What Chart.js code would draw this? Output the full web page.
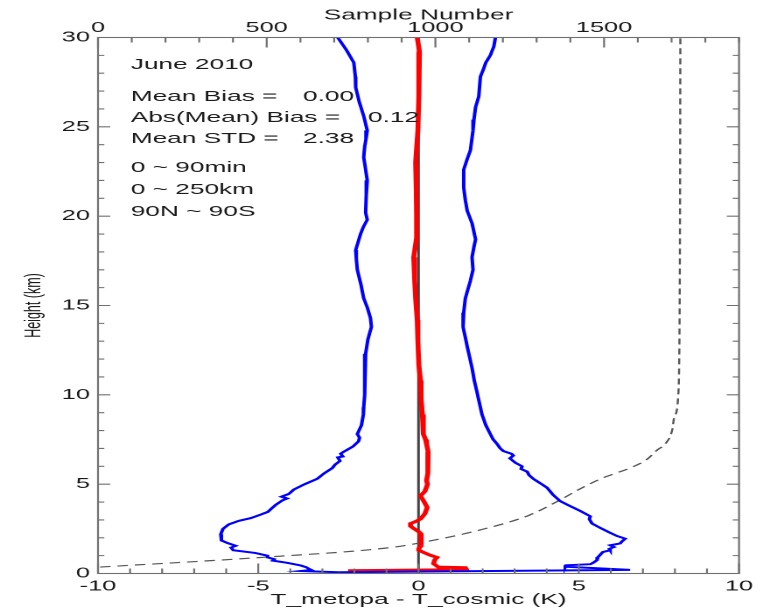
<!DOCTYPE html>
<html>
<head>
<meta charset="utf-8">
<script src="https://cdn.jsdelivr.net/npm/chart.js@4.4.1/dist/chart.umd.min.js"></script>
<style>
  html, body { margin: 0; padding: 0; background: #fff; overflow: hidden; }
  /* the original picture is stretched sideways, so the canvas is too */
  #chart { display: block; transform: scaleX(1.75); transform-origin: 0 0; }
</style>
</head>
<body>
<canvas id="chart" width="436" height="610"></canvas>
<script>
// mean - std (K) vs height (km)
const leftHeight = [30, 29.3, 28.6, 27.8, 27.2, 26.4, 25.6, 24.8, 24.3, 23.9, 23.3, 22.6, 22.0, 21.2, 20.2, 19.8, 19.4, 19.0, 18.1, 17.6,
  17.0, 16.2, 15.4, 14.9, 14.3, 13.8, 13.1, 12.3, 11.5, 10.8, 10.0, 9.3, 8.9, 8.3, 7.8, 7.6, 7.4, 7.1, 6.8, 6.7,
  6.55, 6.5, 6.3, 6.1, 5.9, 5.6, 5.3, 5.0, 4.7, 4.45, 4.3, 4.2, 4.1, 3.85, 3.6, 3.45, 3.3, 3.1, 2.95, 2.75,
  2.5, 2.2, 1.85, 1.7, 1.55, 1.45, 1.3, 1.15, 1.0, 0.9, 0.8, 0.72, 0.6, 0.45, 0.35, 0.27, 0.2, 0.14, 0.07];
const leftDiff = [-2.52, -2.25, -2.02, -1.97, -1.96, -1.85, -1.71, -1.6, -1.64, -1.68, -1.71, -1.65, -1.6, -1.63, -1.65, -1.6, -1.72, -1.81, -1.96, -1.94,
  -1.91, -1.8, -1.71, -1.6, -1.5, -1.47, -1.58, -1.65, -1.67, -1.68, -1.69, -1.71, -1.72, -1.78, -1.91, -1.84, -1.87, -2.05, -2.35, -2.43,
  -2.36, -2.52, -2.45, -2.6, -2.69, -2.95, -3.16, -3.55, -3.89, -4.05, -4.28, -4.1, -4.24, -4.45, -4.61, -4.7, -4.92, -5.23, -5.6, -5.92,
  -6.1, -6.17, -6.15, -5.95, -5.7, -5.85, -5.78, -5.1, -4.71, -4.71, -4.5, -4.55, -4.1, -3.68, -3.5, -3.43, -3.35, -3.68, -2.49];

// mean + std (K) vs height (km)
const rightHeight = [30, 29.5, 29.0, 28.6, 28.2, 27.8, 26.7, 26.1, 25.4, 24.8, 23.7, 23.1, 22.6, 21.6, 20.9, 20.3, 19.6, 18.7, 18.2, 17.7,
  17.0, 16.4, 15.4, 14.6, 13.8, 13.3, 12.7, 11.5, 10.8, 10.1, 8.9, 8.3, 7.8, 7.5, 7.25, 7.0, 6.85, 6.7, 6.6, 6.45,
  6.2, 6.0, 5.85, 5.7, 5.5, 5.3, 5.05, 4.8, 4.4, 4.05, 3.8, 3.5, 3.2, 3.05, 2.8, 2.55, 2.3, 2.1, 1.95, 1.8,
  1.68, 1.58, 1.48, 1.38, 1.3, 1.2, 1.05, 0.92, 0.75, 0.6, 0.52, 0.46, 0.38, 0.3, 0.2, 0.07];
const rightDiff = [2.4, 2.35, 2.24, 2.1, 2.02, 1.93, 1.88, 1.78, 1.73, 1.7, 1.62, 1.5, 1.41, 1.41, 1.46, 1.52, 1.67, 1.78, 1.72, 1.67,
  1.7, 1.62, 1.46, 1.41, 1.39, 1.45, 1.52, 1.67, 1.74, 1.83, 1.98, 2.1, 2.24, 2.33, 2.45, 2.55, 2.65, 2.9, 2.96, 2.85,
  3.02, 3.23, 3.2, 3.39, 3.45, 3.58, 3.8, 4.01, 4.2, 4.42, 4.7, 5.05, 5.36, 5.33, 5.41, 5.67, 5.95, 6.19, 6.45, 6.35,
  6.29, 5.98, 6.1, 5.95, 5.98, 5.75, 5.67, 5.6, 5.57, 5.45, 5.36, 4.6, 4.58, 5.5, 6.6, -2.49];

// mean bias (K) vs height (km)
const biasHeight = [30, 29.2, 28.0, 26.7, 24.8, 23.0, 21.5, 20.0, 18.8, 17.7, 16.4, 15.4, 14.2, 13.0, 11.7, 10.8, 9.8, 8.9, 7.8, 7.5,
  7.25, 6.8, 6.1, 5.6, 5.2, 5.0, 4.6, 4.35, 4.0, 3.7, 3.35, 3.05, 2.9, 2.8, 2.65, 2.52, 2.35, 2.25, 1.95, 1.75,
  1.55, 1.4, 1.3, 1.15, 1.02, 0.9, 0.75, 0.55, 0.45, 0.36, 0.33, 0.22, 0.16];
const biasDiff = [-0.04, 0.03, 0.02, 0.0, -0.02, -0.09, -0.07, -0.06, -0.06, -0.15, -0.12, -0.09, -0.04, -0.02, 0.01, 0.06, 0.08, 0.12, 0.15, 0.22,
  0.25, 0.3, 0.31, 0.27, 0.25, 0.28, 0.2, 0.06, 0.18, 0.27, 0.2, 0.06, -0.1, -0.25, -0.25, -0.15, 0.0, 0.06, 0.1, 0.1,
  0.05, 0.01, 0.01, 0.2, 0.37, 0.58, 0.5, 0.47, 0.55, 0.62, 1.46, 1.5, -2.2];

// sample number (top axis) vs height (km)
const sampleHeight = [0.36, 0.92, 1.48, 1.71, 2.43, 3.27, 4.1, 4.75, 5.34, 5.62, 5.96, 6.36, 6.92, 7.31, 8.04, 8.76, 10, 15, 20, 30];
const sampleCount = [6, 500, 879, 953, 1131, 1279, 1368, 1430, 1495, 1536, 1584, 1625, 1658, 1684, 1702, 1708, 1720, 1724, 1725, 1726];

// zero reference line
const zeroDiff = [0, 0];
const zeroHeight = [0, 30];

// tick labels
const bottomTicks = [-10, -5, 0, 5, 10];
const topTicks = [0, 500, 1000, 1500];
const heightTicks = [0, 5, 10, 15, 20, 25, 30];

const noteTitle = 'June 2010';
const statLabels = ['Mean Bias =', 'Abs(Mean) Bias =', 'Mean STD ='];
const statValues = ['0.00', '0.12', '2.38'];
const rangeLabels = ['0 ~ 90min', '0 ~ 250km', '90N ~ 90S'];

Chart.defaults.font.family = '"Liberation Sans", Arial, sans-serif';
Chart.defaults.color = '#1a1a1a';

function toPoints(xs, ys) {
    return xs.map((x, i) => ({ x: x, y: ys[i] }));
}

function fixedTicks(values) {
    return scale => { scale.ticks = values.map(v => ({ value: v })); };
}

// IDL style frame with ticks pointing into the plot
const frameTicks = {
    id: 'frameTicks',
    afterDatasetsDraw(chart) {
        const c = chart.ctx;
        const a = chart.chartArea;
        const sx = chart.scales.x, st = chart.scales.x2, sy = chart.scales.y;
        c.save();
        c.strokeStyle = '#707070';
        c.lineWidth = 1.1;
        c.strokeRect(a.left, a.top, a.right - a.left, a.bottom - a.top);
        c.beginPath();
        for (let v = -10; v <= 10; v++) {
            const px = sx.getPixelForValue(v);
            const len = v % 5 === 0 ? 10 : 5;
            c.moveTo(px, a.bottom);
            c.lineTo(px, a.bottom - len);
        }
        for (let v = 0; v <= 1900; v += 100) {
            const px = st.getPixelForValue(v);
            const len = v % 500 === 0 ? 10 : 5;
            c.moveTo(px, a.top);
            c.lineTo(px, a.top + len);
        }
        for (let h = 0; h <= 30; h++) {
            const py = sy.getPixelForValue(h);
            const len = h % 5 === 0 ? 7 : 3.6;
            c.moveTo(a.left, py);
            c.lineTo(a.left + len, py);
            c.moveTo(a.right, py);
            c.lineTo(a.right - len, py);
        }
        c.stroke();
        c.restore();
    },
    afterDraw(chart) {
        const c = chart.ctx;
        const a = chart.chartArea;
        const x0 = a.left + 18.7;
        c.save();
        c.font = '15px "Liberation Sans", Arial, sans-serif';
        c.fillStyle = '#1a1a1a';
        c.textBaseline = 'middle';
        c.fillText(noteTitle, x0, a.top + 27.5);
        const statY = [59.5, 80.5, 101.5];
        const valueX = [117.1, 154.3, 117.1];
        statLabels.forEach((t, i) => {
            c.fillText(t, x0, a.top + statY[i]);
            c.fillText(statValues[i], a.left + valueX[i], a.top + statY[i]);
        });
        const rangeY = [130.5, 152.5, 174.5];
        rangeLabels.forEach((t, i) => c.fillText(t, x0, a.top + rangeY[i]));
        c.restore();
    }
};

const ctx = document.getElementById('chart').getContext('2d');

const myChart = new Chart(ctx, {
    type: 'line',
    data: {
        datasets: [
            { label: 'Mean - STD', data: toPoints(leftDiff, leftHeight), borderColor: '#0000ff', borderWidth: 2, order: 1 },
            { label: 'Mean + STD', data: toPoints(rightDiff, rightHeight), borderColor: '#0000ff', borderWidth: 2, order: 1 },
            { label: 'Mean Bias', data: toPoints(biasDiff, biasHeight), borderColor: '#ff0000', borderWidth: 2.8, order: 2 },
            {
                label: 'Sample Number', data: toPoints(sampleCount, sampleHeight), xAxisID: 'x2',
                borderColor: '#555555', borderWidth: 1.2, borderDash: [6, 4], cubicInterpolationMode: 'monotone', order: 3
            },
            { label: 'zero', data: toPoints(zeroDiff, zeroHeight), borderColor: '#444444', borderWidth: 1.5, order: 4 }
        ]
    },
    options: {
        responsive: false,
        animation: false,
        devicePixelRatio: 2,
        layout: { padding: { left: 0, right: 13.7, top: 0, bottom: 0 } },
        elements: { point: { radius: 0 }, line: { tension: 0 } },
        plugins: { legend: { display: false }, tooltip: { enabled: false } },
        scales: {
            x: {
                type: 'linear', position: 'bottom', min: -10, max: 10,
                afterBuildTicks: fixedTicks(bottomTicks),
                ticks: { padding: 4.5, font: { size: 14.5 }, maxRotation: 0, autoSkip: false, callback: v => String(v) },
                grid: { display: false, drawTicks: false },
                border: { display: false },
                title: { display: true, text: 'T_metopa - T_cosmic (K)', font: { size: 15 }, padding: { top: 0, bottom: 1 } },
                afterFit: s => { s.height = 36.5; }
            },
            x2: {
                type: 'linear', position: 'top', min: 0, max: 1900,
                afterBuildTicks: fixedTicks(topTicks),
                ticks: { padding: 1, font: { size: 14.5 }, maxRotation: 0, autoSkip: false, callback: v => String(v) },
                grid: { display: false, drawTicks: false },
                border: { display: false },
                title: { display: true, text: 'Sample Number', font: { size: 15 }, padding: { top: 6.5, bottom: 0 } },
                afterFit: s => { s.height = 37.5; }
            },
            y: {
                type: 'linear', position: 'left', min: 0, max: 30,
                afterBuildTicks: fixedTicks(heightTicks),
                ticks: { padding: 4.6, font: { size: 14.5 }, autoSkip: false, callback: v => String(v) },
                grid: { display: false, drawTicks: false },
                border: { display: false },
                title: { display: true, text: 'Height (km)', font: { size: 12.5 }, padding: { top: 12, bottom: 0 } },
                afterFit: s => { s.width = 56; }
            }
        }
    },
    plugins: [frameTicks]
});
</script>
</body>
</html>
